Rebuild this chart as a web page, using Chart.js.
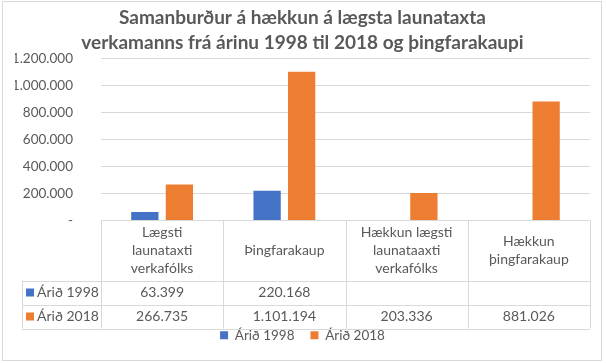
<!DOCTYPE html>
<html>
<head>
<meta charset="utf-8">
<script src="https://cdn.jsdelivr.net/npm/chart.js@4.4.0/dist/chart.umd.min.js"></script>
<style>
  html, body { margin: 0; padding: 0; background: #fff; }
  #wrap { width: 606px; height: 363px; }
</style>
</head>
<body>
<div id="wrap"><canvas id="chart" width="606" height="363"></canvas></div>
<script>
const categories = [
  ['Lægsti', 'launataxti', 'verkafólks'],
  ['Þingfarakaup'],
  ['Hækkun lægsti', 'launataaxti', 'verkafólks'],
  ['Hækkun', 'þingfarakaup']
];
const seriesNames = ['Árið 1998', 'Árið 2018'];
const values1998 = [63399, 220168, null, null];
const values2018 = [266735, 1101194, 203336, 881026];
const titleLines = ['Samanburður á hækkun á lægsta launataxta', 'verkamanns frá árinu 1998 til 2018 og þingfarakaupi'];

const colors = ['#4472C4', '#ED7D31'];
const textColor = '#595959';
const lineColor = '#d9d9d9';
const fontFamily = 'Lato, "Open Sans", sans-serif';

function fmt(v) {
  if (v === null || v === undefined) return '';
  if (v === 0) return '-';
  return String(v).replace(/\B(?=(\d{3})+(?!\d))/g, '.');
}

// draws the Excel style data table under the bars
const dataTable = {
  id: 'dataTable',
  beforeDraw(chart) {
    const c = chart.ctx;
    c.save();
    c.fillStyle = '#fff';
    c.fillRect(0, 0, chart.width, chart.height);
    c.strokeStyle = lineColor;
    c.lineWidth = 1;
    c.strokeRect(2.5, 1.5, 599, 359);
    c.restore();
  },
  afterDraw(chart) {
    const c = chart.ctx;
    const x = chart.scales.x;
    const area = chart.chartArea;
    const n = categories.length;
    const w = (area.right - area.left) / n;
    const top = area.bottom;
    const headH = 60, rowH = 24;
    const labelLeft = 22;
    const r1 = top + headH, r2 = r1 + rowH, r3 = r2 + rowH;

    c.save();
    c.strokeStyle = lineColor;
    c.lineWidth = 1;
    c.beginPath();
    for (let i = 0; i <= n; i++) {
      const px = Math.round(area.left + i * w) + 0.5;
      c.moveTo(px, top);
      c.lineTo(px, r3);
    }
    c.moveTo(labelLeft + 0.5, r1);
    c.lineTo(labelLeft + 0.5, r3);
    [r1, r2, r3].forEach(y => {
      c.moveTo(labelLeft, Math.round(y) + 0.5);
      c.lineTo(area.right, Math.round(y) + 0.5);
    });
    c.stroke();

    c.fillStyle = textColor;
    c.font = '14px ' + fontFamily;
    c.textAlign = 'center';
    c.textBaseline = 'middle';
    const lh = 18;
    categories.forEach((lines, i) => {
      const cx = x.getPixelForValue(i);
      const y0 = top + headH / 2 - (lines.length - 1) * lh / 2;
      lines.forEach((t, j) => c.fillText(t, cx, y0 + j * lh));
    });

    const rows = [values1998, values2018];
    rows.forEach((vals, r) => {
      const cy = r1 + rowH * r + rowH / 2;
      vals.forEach((v, i) => {
        c.fillText(fmt(v), x.getPixelForValue(i), cy);
      });
      c.fillStyle = colors[r];
      c.fillRect(labelLeft + 4, cy - 4, 8, 8);
      c.fillStyle = textColor;
      c.textAlign = 'left';
      c.fillText(seriesNames[r], labelLeft + 15, cy);
      c.textAlign = 'center';
    });
    c.restore();
  }
};

new Chart(document.getElementById('chart'), {
  type: 'bar',
  data: {
    labels: categories,
    datasets: [
      { label: seriesNames[0], data: values1998, backgroundColor: colors[0] },
      { label: seriesNames[1], data: values2018, backgroundColor: colors[1] }
    ]
  },
  options: {
    responsive: false,
    animation: false,
    layout: { padding: { left: 15, right: 16, top: 0, bottom: 11 } },
    datasets: {
      bar: { categoryPercentage: 0.565, barPercentage: 0.79 }
    },
    scales: {
      x: {
        grid: { display: false },
        border: { display: false },
        ticks: { display: false },
        afterFit(scale) { scale.height = 92; }
      },
      y: {
        min: 0,
        max: 1200000,
        ticks: {
          stepSize: 200000,
          padding: 28,
          color: textColor,
          font: { family: fontFamily, size: 13.5 },
          callback: v => fmt(v)
        },
        grid: { color: lineColor, drawTicks: false },
        border: { display: false },
        afterFit(scale) { scale.width = 86; }
      }
    },
    plugins: {
      title: {
        display: true,
        text: titleLines,
        color: textColor,
        font: { family: fontFamily, size: 19, weight: 'bold', lineHeight: 1.3 },
        padding: { top: 6, bottom: 3 }
      },
      legend: {
        position: 'bottom',
        labels: {
          color: textColor,
          font: { family: fontFamily, size: 13.5 },
          boxWidth: 8,
          boxHeight: 8,
          padding: 16
        }
      },
      tooltip: { enabled: false }
    }
  },
  plugins: [dataTable]
});
</script>
</body>
</html>
